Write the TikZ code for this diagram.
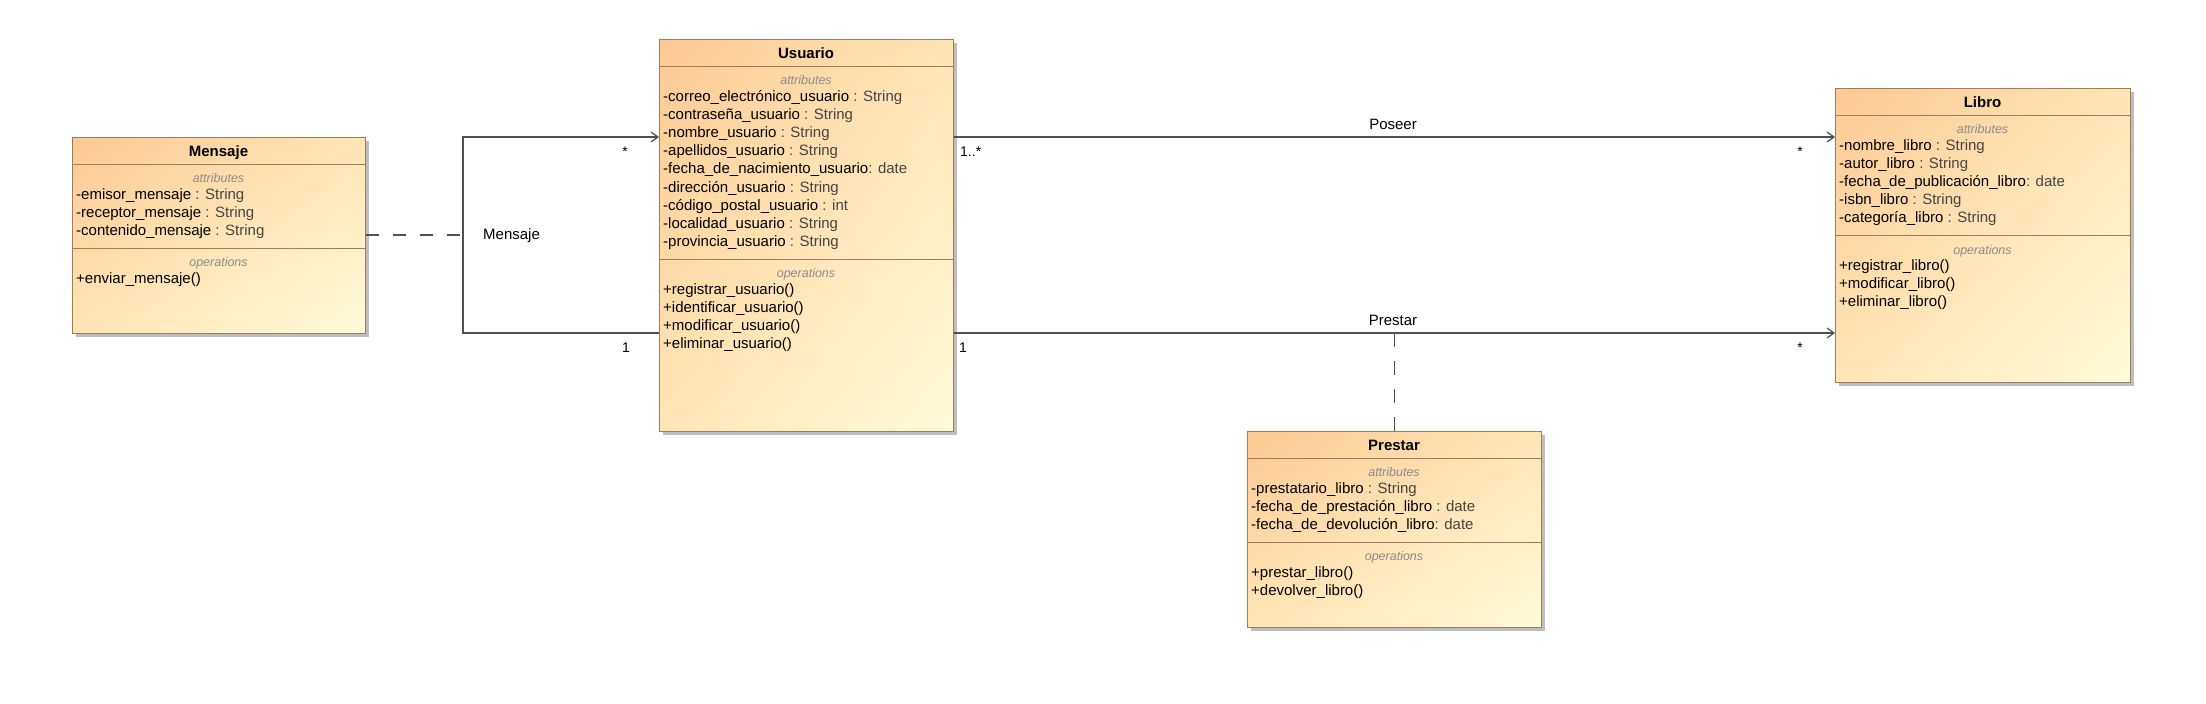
\documentclass[tikz,border=0pt]{standalone}
\usepackage{fontspec}
\setmainfont{Liberation Sans}
\usetikzlibrary{arrows.meta,shadings}
\definecolor{boxc}{HTML}{A07C5C}
\definecolor{linec}{HTML}{505050}
\definecolor{sectc}{HTML}{8C8C8C}
\definecolor{typec}{HTML}{454545}
\definecolor{namec}{HTML}{000000}
\definecolor{shadowc}{HTML}{BEBEBE}
\definecolor{cA}{HTML}{FDC994}
\definecolor{cB}{HTML}{FFE5B6}
\definecolor{cC}{HTML}{FFFCD8}
\newcommand\umlnm[1]{\textcolor{namec}{#1}}
\newcommand\umlty[1]{\textcolor{typec}{#1}}
\begin{document}
\begin{tikzpicture}[x=1pt,y=-1pt,
  classbox/.style={draw=boxc, line width=1.3pt, upper left=cA, upper right=cB, lower left=cB, lower right=cC, inner sep=0pt, anchor=north west},
  shadowbox/.style={fill=shadowc, draw=none},
  sepline/.style={draw=boxc, line width=1pt},
  title/.style={font=\bfseries\fontsize{15}{18}\selectfont, anchor=base, inner sep=0pt},
  sect/.style={font=\itshape\fontsize{12.5}{15}\selectfont, text=sectc, anchor=base, inner sep=0pt},
  row/.style={font=\fontsize{15}{18}\selectfont, anchor=base west, inner sep=0pt},
  assoc/.style={draw=linec, line width=1.2pt},
  arr/.style={-{Straight Barb[length=7pt,width=10pt]}},
  dashline/.style={draw=linec, line width=1.2pt, dash pattern=on 13pt off 14pt},
  mult/.style={font=\fontsize{14}{16}\selectfont, anchor=base, inner sep=0pt},
  lab/.style={font=\fontsize{15}{18}\selectfont, anchor=base, inner sep=0pt}]
\fill[white] (0,0) rectangle (2206,704);
\useasboundingbox (0,0) rectangle (2206,704);

% ---------- Mensaje ----------
\fill[shadowbox] (76,141) rectangle (369,337);
\node[classbox, minimum width=293pt, minimum height=196pt] (mensaje) at (72,137) {};
\draw[sepline] ([yshift=-27pt]mensaje.north west) -- ([yshift=-27pt]mensaje.north east);
\draw[sepline] ([yshift=-111pt]mensaje.north west) -- ([yshift=-111pt]mensaje.north east);
\node[title] (mt) at (218.5,156) {Mensaje};
\node[sect] (ma) at (218.5,182) {attributes};
\node[row] (m1) at (76,199) {\umlnm{-emisor\_mensaje} \umlty{: String}};
\node[row] (m2) at (76,217) {\umlnm{-receptor\_mensaje} \umlty{: String}};
\node[row] (m3) at (76,235) {\umlnm{-contenido\_mensaje} \umlty{: String}};
\node[sect] (mo) at (218.5,266) {operations};
\node[row] (m4) at (76,283) {\umlnm{+enviar\_mensaje()}};

% ---------- Usuario ----------
\fill[shadowbox] (663,43) rectangle (957,435);
\node[classbox, minimum width=294pt, minimum height=392pt] (usuario) at (659,39) {};
\draw[sepline] ([yshift=-27pt]usuario.north west) -- ([yshift=-27pt]usuario.north east);
\draw[sepline] ([yshift=-220pt]usuario.north west) -- ([yshift=-220pt]usuario.north east);
\node[title] (ut) at (806,58) {Usuario};
\node[sect] (ua) at (806,84) {attributes};
\node[row] (u1) at (663,101) {\umlnm{-correo\_electrónico\_usuario} \umlty{: String}};
\node[row] (u2) at (663,119.2) {\umlnm{-contraseña\_usuario} \umlty{: String}};
\node[row] (u3) at (663,137.4) {\umlnm{-nombre\_usuario} \umlty{: String}};
\node[row] (u4) at (663,155.6) {\umlnm{-apellidos\_usuario} \umlty{: String}};
\node[row] (u5) at (663,173.8) {\umlnm{-fecha\_de\_nacimiento\_usuario}\umlty{: date}};
\node[row] (u6) at (663,192) {\umlnm{-dirección\_usuario} \umlty{: String}};
\node[row] (u7) at (663,210.2) {\umlnm{-código\_postal\_usuario} \umlty{: int}};
\node[row] (u8) at (663,228.4) {\umlnm{-localidad\_usuario} \umlty{: String}};
\node[row] (u9) at (663,246.6) {\umlnm{-provincia\_usuario} \umlty{: String}};
\node[sect] (uo) at (806,277) {operations};
\node[row] (u10) at (663,294) {\umlnm{+registrar\_usuario()}};
\node[row] (u11) at (663,312.2) {\umlnm{+identificar\_usuario()}};
\node[row] (u12) at (663,330.4) {\umlnm{+modificar\_usuario()}};
\node[row] (u13) at (663,348.6) {\umlnm{+eliminar\_usuario()}};

% ---------- Libro ----------
\fill[shadowbox] (1839,92) rectangle (2134,386);
\node[classbox, minimum width=295pt, minimum height=294pt] (libro) at (1835,88) {};
\draw[sepline] ([yshift=-27pt]libro.north west) -- ([yshift=-27pt]libro.north east);
\draw[sepline] ([yshift=-147pt]libro.north west) -- ([yshift=-147pt]libro.north east);
\node[title] (lt) at (1982.5,107) {Libro};
\node[sect] (la) at (1982.5,133) {attributes};
\node[row] (l1) at (1839,150) {\umlnm{-nombre\_libro} \umlty{: String}};
\node[row] (l2) at (1839,168.2) {\umlnm{-autor\_libro} \umlty{: String}};
\node[row] (l3) at (1839,186.4) {\umlnm{-fecha\_de\_publicación\_libro}\umlty{: date}};
\node[row] (l4) at (1839,204.6) {\umlnm{-isbn\_libro} \umlty{: String}};
\node[row] (l5) at (1839,222.8) {\umlnm{-categoría\_libro} \umlty{: String}};
\node[sect] (lo) at (1982.5,254) {operations};
\node[row] (l6) at (1839,270) {\umlnm{+registrar\_libro()}};
\node[row] (l7) at (1839,288.2) {\umlnm{+modificar\_libro()}};
\node[row] (l8) at (1839,306.4) {\umlnm{+eliminar\_libro()}};

% ---------- Prestar ----------
\fill[shadowbox] (1251,435) rectangle (1545,631);
\node[classbox, minimum width=294pt, minimum height=196pt] (prestar) at (1247,431) {};
\draw[sepline] ([yshift=-27pt]prestar.north west) -- ([yshift=-27pt]prestar.north east);
\draw[sepline] ([yshift=-111pt]prestar.north west) -- ([yshift=-111pt]prestar.north east);
\node[title] (pt) at (1394,450) {Prestar};
\node[sect] (pa) at (1394,476) {attributes};
\node[row] (p1) at (1251,493) {\umlnm{-prestatario\_libro} \umlty{: String}};
\node[row] (p2) at (1251,511) {\umlnm{-fecha\_de\_prestación\_libro} \umlty{: date}};
\node[row] (p3) at (1251,529) {\umlnm{-fecha\_de\_devolución\_libro}\umlty{: date}};
\node[sect] (po) at (1394,560) {operations};
\node[row] (p4) at (1251,577) {\umlnm{+prestar\_libro()}};
\node[row] (p5) at (1251,595) {\umlnm{+devolver\_libro()}};

% ---------- Connectors ----------
% Poseer
\draw[assoc, arr] ([yshift=-98pt]usuario.north east) -- ([yshift=-49pt]libro.north west);
\node[lab] (poseer) at (1393,129.5) {Poseer};
\node[mult, anchor=base west] (pm1) at (960,156) {1..*};
\node[mult] (pm2) at (1800,156) {*};
% Prestar
\draw[assoc, arr] ([yshift=-294pt]usuario.north east) -- ([yshift=-245pt]libro.north west)
  coordinate[midway] (prc);
\node[lab] (prestarlab) at (1393,325) {Prestar};
\node[mult] (rm1) at (963,352) {1};
\node[mult] (rm2) at (1800,352) {*};
\draw[assoc, dash pattern=on 14pt off 14pt] (prc) -- (prestar.north);
% Mensaje (self association)
\coordinate (selfc) at (463,235);
\draw[assoc, arr] ([yshift=-294pt]usuario.north west) -| (selfc) |- ([yshift=-98pt]usuario.north west);
\node[lab, anchor=base west] (mensajelab) at (483,239) {Mensaje};
\node[mult] (mm1) at (625,156) {*};
\node[mult] (mm2) at (626,352) {1};
\draw[dashline] ([yshift=-98pt]mensaje.north east) -- (selfc);
\end{tikzpicture}
\end{document}
